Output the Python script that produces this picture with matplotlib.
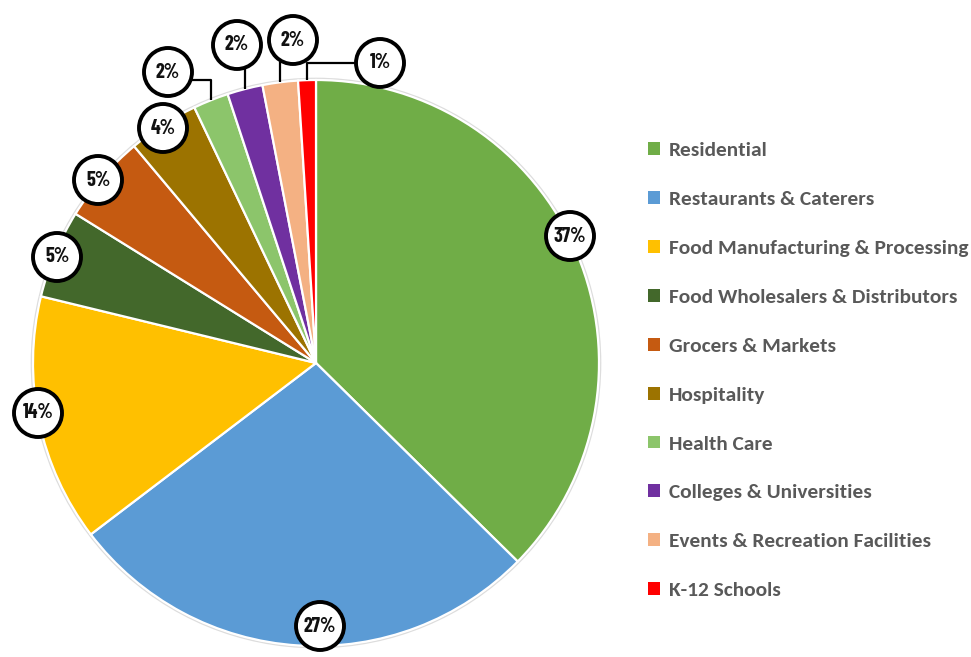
import numpy as np
import matplotlib

matplotlib.use("Agg")
import matplotlib.pyplot as plt
from matplotlib.patches import Circle


categories = [
    "Residential",
    "Restaurants & Caterers",
    "Food Manufacturing & Processing",
    "Food Wholesalers & Distributors",
    "Grocers & Markets",
    "Hospitality",
    "Health Care",
    "Colleges & Universities",
    "Events & Recreation Facilities",
    "K-12 Schools",
]
shares = [37, 27, 14, 5, 5, 4, 2, 2, 2, 1]
colors = [
    "#70AD47", "#5B9BD5", "#FFC000", "#43682B", "#C55A11",
    "#9C7300", "#8CC56B", "#7030A0", "#F4B183", "#FF0000",
]

W, H = 971, 657
CX, CY, R = 316, H - 363, 283
BADGE_R = 24

# label centre (pixel, y down) and leader style for each slice
label_pos = [
    (570, 236), (320, 626), (38, 413), (57, 257), (98, 180),
    (163, 128), (168, 72), (237, 45), (293, 40), (380, 63),
]
leader = [None, None, None, None, None, None, "elbow", "down", "down", "elbow"]

fig = plt.figure(figsize=(W / 100, H / 100), dpi=100)
ax = fig.add_axes([0, 0, 1, 1])

wedges, _ = ax.pie(
    shares,
    colors=colors,
    startangle=90,
    counterclock=False,
    center=(CX, CY),
    radius=R,
    wedgeprops=dict(edgecolor="white", linewidth=1.6),
    frame=True,
)
ax.add_patch(Circle((CX, CY), R + 1.5, facecolor="none", edgecolor="#dddddd", lw=1.2, zorder=0))
ax.set_xlim(0, W)
ax.set_ylim(0, H)
ax.set_aspect("equal")
ax.axis("off")

for wedge, val, (lx, ly), kind in zip(wedges, shares, label_pos, leader):
    ly = H - ly
    if kind is not None:
        mid = np.deg2rad((wedge.theta1 + wedge.theta2) / 2)
        px, py = CX + R * np.cos(mid), CY + R * np.sin(mid)
        if kind == "elbow":
            side = 1 if px > lx else -1
            yy = ly - 8 if side > 0 else ly
            xs = [lx + side * BADGE_R, px, px]
            ys = [yy, yy, py]
        else:
            xs = [px, px]
            ys = [ly - BADGE_R + 2, py]
        ax.plot(xs, ys, color="black", lw=1.6, zorder=3, solid_capstyle="butt")
    ax.add_patch(Circle((lx, ly), BADGE_R, facecolor="white", edgecolor="black", lw=2.8, zorder=4))
    ax.text(lx, ly, f"{val}%", ha="center", va="center", fontsize=14.5,
            fontweight="bold", family=["Barlow Condensed", "DejaVu Sans"],
            color="#111111", zorder=5)

leg = ax.legend(
    wedges,
    categories,
    loc="upper left",
    bbox_to_anchor=(629 / W, 1 - 123 / H),
    frameon=False,
    handlelength=0.55,
    handleheight=0.55,
    handletextpad=0.4,
    labelspacing=1.49,
    prop=dict(family=["Carlito", "DejaVu Sans"], weight="bold", size=15.4),
    labelcolor="#595959",
)
for h in leg.legend_handles:
    h.set_linewidth(0)

fig.savefig("out.png", dpi=100)
